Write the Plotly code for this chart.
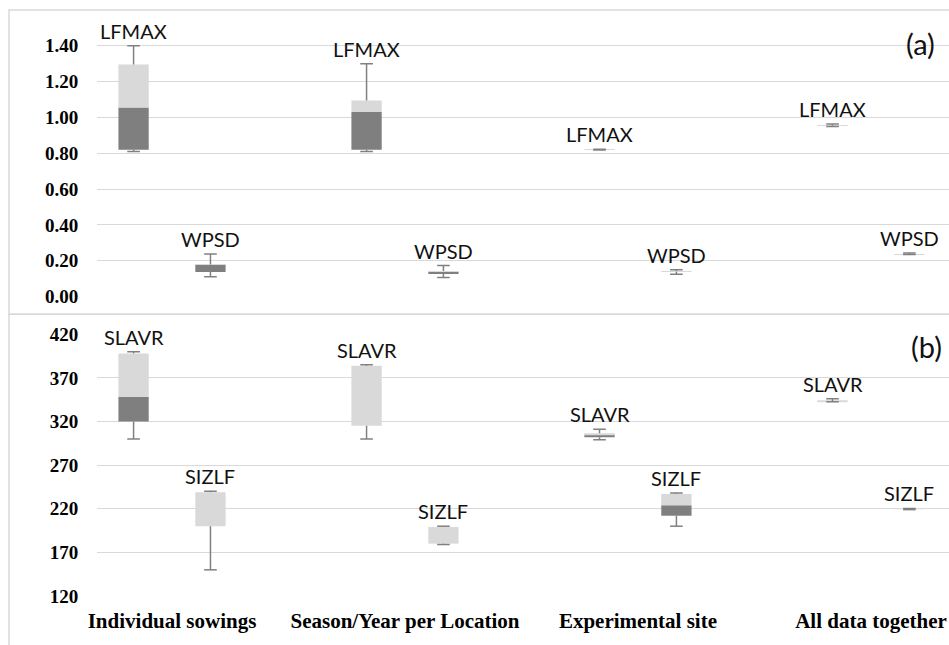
import plotly.graph_objects as go

# Grouping levels on the category axis
categories = ["Individual sowings", "Season/Year per Location", "Experimental site", "All data together"]

# Panel (a): five-number summaries per grouping level
lfmax_min = [0.81, 0.81, 0.818, 0.949]
lfmax_q1 = [0.82, 0.82, 0.82, 0.955]
lfmax_med = [1.055, 1.03, 0.82, 0.955]
lfmax_q3 = [1.295, 1.095, 0.821, 0.956]
lfmax_max = [1.40, 1.30, 0.822, 0.963]

wpsd_min = [0.11, 0.107, 0.125, 0.235]
wpsd_q1 = [0.137, 0.126, 0.139, 0.236]
wpsd_med = [0.178, 0.14, 0.139, 0.236]
wpsd_q3 = [0.179, 0.142, 0.142, 0.237]
wpsd_max = [0.238, 0.173, 0.15, 0.243]

# Panel (b)
slavr_min = [300, 300, 299, 342.5]
slavr_q1 = [320, 315, 302, 343]
slavr_med = [348, 315, 305, 343]
slavr_q3 = [398, 384, 306.5, 343.5]
slavr_max = [400, 385, 311, 346]

sizlf_min = [150, 179, 200, 219]
sizlf_q1 = [200, 180, 212, 219.5]
sizlf_med = [200, 180, 224, 219.5]
sizlf_q3 = [239, 199, 237, 219.7]
sizlf_max = [240, 200, 238, 220.3]

ticks_a = [0.0, 0.2, 0.4, 0.6, 0.8, 1.0, 1.2, 1.4]
ticks_b = [120, 170, 220, 270, 320, 370, 420]

DARK = "#7f7f7f"
LIGHT = "#d9d9d9"
WHISK = "#808080"
GRID = "#d9d9d9"
OFFSET = 0.165
BAR_W = 0.13

fig = go.Figure()


def add_box_series(name, mins, q1, med, q3, maxs, shift, xa, ya):
    n = len(categories)
    xs = [i + shift for i in range(n)]
    # lower half of the box: Q1 -> median
    fig.add_trace(go.Bar(x=xs, y=[m - a for m, a in zip(med, q1)], base=q1,
                         width=BAR_W, marker=dict(color=DARK, line=dict(width=0)),
                         xaxis=xa, yaxis=ya, showlegend=False, hoverinfo="skip"))
    # upper half of the box: median -> Q3
    fig.add_trace(go.Bar(x=xs, y=[b - m for b, m in zip(q3, med)], base=med,
                         width=BAR_W, marker=dict(color=LIGHT, line=dict(width=0)),
                         xaxis=xa, yaxis=ya, showlegend=False, hoverinfo="skip"))
    # whisker stems (no end bars at the box edges)
    fig.add_trace(go.Scatter(x=xs, y=q1, mode="markers", marker=dict(size=1, opacity=0),
                             error_y=dict(type="data", symmetric=False,
                                          array=[0] * n,
                                          arrayminus=[a - m for a, m in zip(q1, mins)],
                                          color=WHISK, thickness=1.5, width=0),
                             xaxis=xa, yaxis=ya, showlegend=False, hoverinfo="skip"))
    fig.add_trace(go.Scatter(x=xs, y=q3, mode="markers", marker=dict(size=1, opacity=0),
                             error_y=dict(type="data", symmetric=False,
                                          array=[m - b for m, b in zip(maxs, q3)],
                                          arrayminus=[0] * n,
                                          color=WHISK, thickness=1.5, width=0),
                             xaxis=xa, yaxis=ya, showlegend=False, hoverinfo="skip"))
    # whisker end caps at min and max
    fig.add_trace(go.Scatter(x=xs + xs, y=list(mins) + list(maxs), mode="markers",
                             marker=dict(symbol="line-ew", size=9,
                                         line=dict(color=WHISK, width=1.5)),
                             xaxis=xa, yaxis=ya, showlegend=False, hoverinfo="skip"))
    # series name above each whisker
    for x, top in zip(xs, maxs):
        fig.add_annotation(x=x, y=top, xref=xa, yref=ya, text=name, showarrow=False,
                           yanchor="middle", yshift=15,
                           font=dict(family="Lato", size=20, color="#111111"))


add_box_series("LFMAX", lfmax_min, lfmax_q1, lfmax_med, lfmax_q3, lfmax_max, -OFFSET, "x", "y")
add_box_series("WPSD", wpsd_min, wpsd_q1, wpsd_med, wpsd_q3, wpsd_max, OFFSET, "x", "y")
add_box_series("SLAVR", slavr_min, slavr_q1, slavr_med, slavr_q3, slavr_max, -OFFSET, "x2", "y2")
add_box_series("SIZLF", sizlf_min, sizlf_q1, sizlf_med, sizlf_q3, sizlf_max, OFFSET, "x2", "y2")

x_range = [-0.322, 3.335]
tick_font = dict(family="Liberation Serif", size=19, color="#000000")

fig.update_layout(
    width=949, height=645,
    margin=dict(l=97, r=0, t=5, b=49),
    paper_bgcolor="white", plot_bgcolor="white",
    barmode="overlay",
    xaxis=dict(domain=[0, 1], anchor="y", range=x_range, showgrid=False, zeroline=False,
               showticklabels=False, showline=False),
    xaxis2=dict(domain=[0, 1], anchor="y2", range=x_range, showgrid=False, zeroline=False,
                showline=False, tickmode="array", tickvals=list(range(len(categories))),
                ticktext=[f"<b>{c}</b>" for c in categories],
                ticks="outside", ticklen=6, tickcolor="rgba(0,0,0,0)",
                tickfont=dict(family="Liberation Serif", size=21, color="#000000")),
    yaxis=dict(domain=[0.511, 1.0], range=[0, 1.6], tickmode="array", tickvals=ticks_a,
               ticktext=[f"<b>{v:.2f}</b>" for v in ticks_a],
               showgrid=True, gridcolor=GRID, gridwidth=1, zeroline=False, showline=False,
               ticks="outside", ticklen=14, tickcolor="rgba(0,0,0,0)", tickfont=tick_font),
    yaxis2=dict(domain=[0, 0.4467], range=[120, 420], tickmode="array", tickvals=ticks_b,
                ticktext=[f"<b>{v}</b>" for v in ticks_b],
                showgrid=True, gridcolor=GRID, gridwidth=1, zeroline=False, showline=False,
                ticks="outside", ticklen=14, tickcolor="rgba(0,0,0,0)", tickfont=tick_font),
)

# panel frames
frame = dict(type="rect", xref="paper", yref="paper", line=dict(color=GRID, width=1.5),
             fillcolor="rgba(0,0,0,0)", layer="below")
fig.add_shape(x0=-0.1033, x1=1.02, y0=0.481, y1=1.0, **frame)
fig.add_shape(x0=-0.1033, x1=1.02, y0=-0.1, y1=0.481, **frame)

# panel tags
fig.add_annotation(x=0.967, y=1.6, xref="paper", yref="y", text="(a)", showarrow=False,
                   xanchor="center", yanchor="middle", yshift=-33,
                   font=dict(family="Lato", size=29, color="#111111"))
fig.add_annotation(x=0.974, y=420, xref="paper", yref="y2", text="(b)", showarrow=False,
                   xanchor="center", yanchor="middle", yshift=-12,
                   font=dict(family="Lato", size=29, color="#111111"))

fig.write_html("out.html")
